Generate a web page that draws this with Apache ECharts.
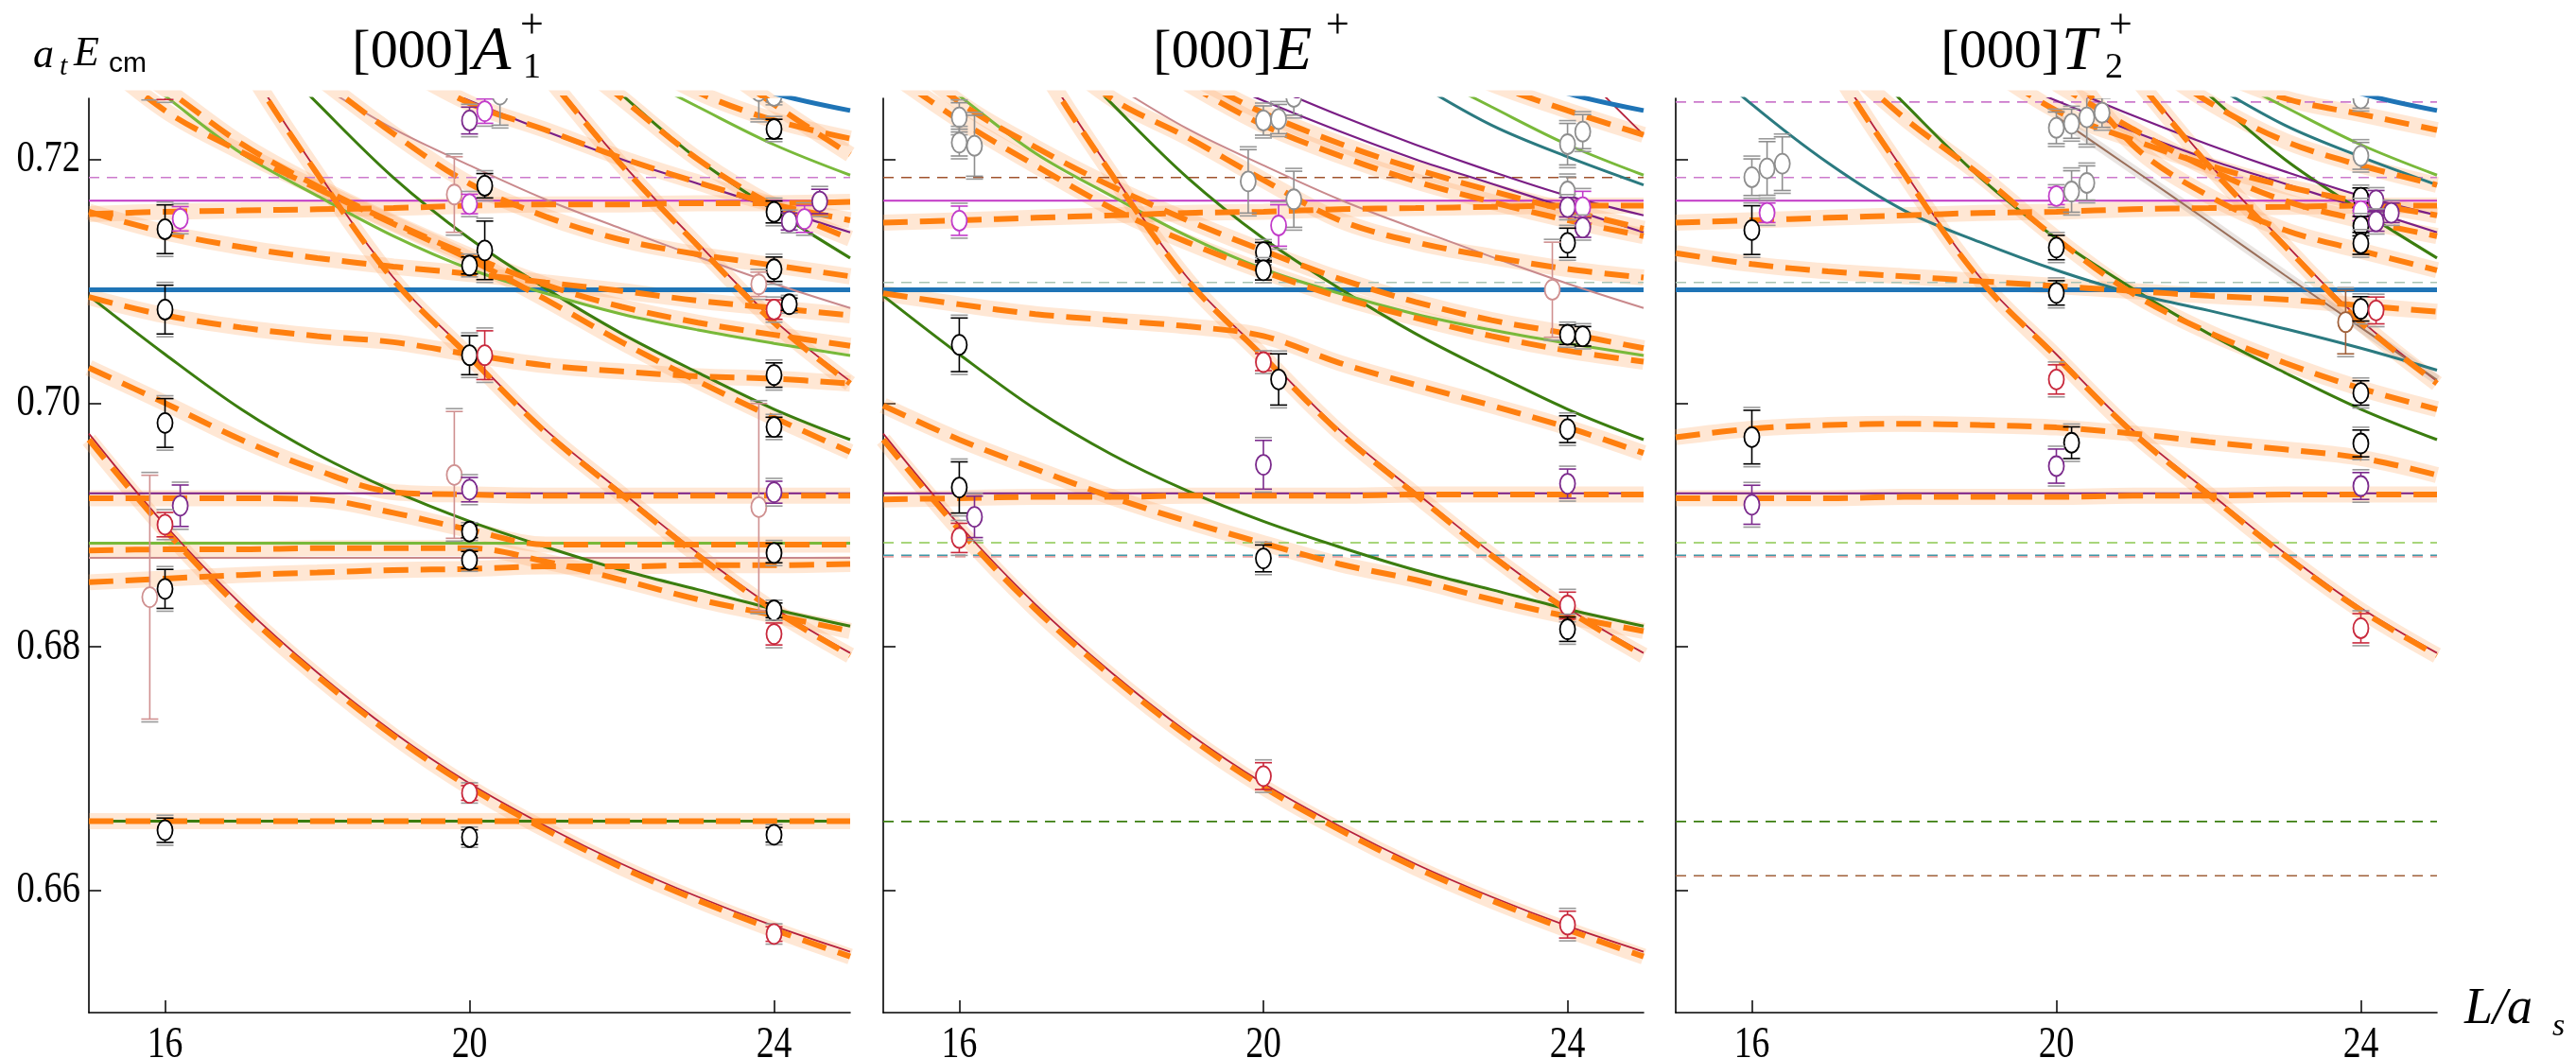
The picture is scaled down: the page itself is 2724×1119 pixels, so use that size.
<!DOCTYPE html>
<html>
<head>
<meta charset="utf-8">
<script src="https://cdn.jsdelivr.net/npm/echarts@6/dist/echarts.min.js"></script>
<style>
html,body{margin:0;padding:0;background:#fff;}
#chart{width:2724px;height:1119px;}
</style>
</head>
<body>
<div id="chart"></div>
<script>
// Box size L/a_s sampled at integer steps
const L = [15, 16, 17, 18, 19, 20, 21, 22, 23, 24, 25];

// Non-interacting energy curves (a_t E_cm)
const crimsonLow  = [0.6975, 0.6900, 0.6835, 0.6779, 0.6730, 0.6688, 0.6653, 0.6622, 0.6595, 0.6571, 0.6550];
const crimsonMid  = [null, 0.7410, 0.7287, 0.7190, 0.7103, 0.7040, 0.6978, 0.6927, 0.6877, 0.6832, 0.6795];
const crimsonHigh = [null, null, null, null, null, 0.7350, 0.7272, 0.7197, 0.7131, 0.7068, 0.7018];
const crimsonTop  = [null, null, null, null, null, null, null, null, null, 0.7282, 0.7220];
const forestLow   = [0.7088, 0.7040, 0.6995, 0.6958, 0.6928, 0.6903, 0.6882, 0.6863, 0.6847, 0.6831, 0.6817];
const forestMid   = [null, null, 0.7310, 0.7246, 0.7185, 0.7135, 0.7094, 0.7057, 0.7025, 0.6995, 0.6970];
const forestHigh  = [null, null, null, null, null, null, 0.7310, 0.7253, 0.7200, 0.7158, 0.7119];
const limeMid     = [0.7300, 0.7252, 0.7205, 0.7170, 0.7137, 0.7110, 0.7090, 0.7073, 0.7060, 0.7049, 0.7039];
const limeHigh    = [null, null, null, null, null, null, null, 0.7275, 0.7243, 0.7212, 0.7187];
const roseCurve   = [null, null, 0.7300, 0.7262, 0.7225, 0.7195, 0.7167, 0.7143, 0.7120, 0.7098, 0.7078];
const violetLow   = [null, null, null, null, 0.7275, 0.7248, 0.7223, 0.7200, 0.7180, 0.7160, 0.7140];
const violetHigh  = [null, null, null, null, null, 0.7262, 0.7236, 0.7212, 0.7190, 0.7170, 0.7154];
const blueHigh    = [null, null, null, null, null, null, null, null, 0.7275, 0.7254, 0.7240];
const tealHigh    = [null, null, null, null, null, null, 0.7300, 0.7263, 0.7228, 0.7202, 0.7179];
const tealLow     = [0.7300, 0.7245, 0.7197, 0.7158, 0.7132, 0.7109, 0.7090, 0.7076, 0.7061, 0.7045, 0.7027];
const umberCurve  = [null, null, null, null, null, 0.7235, 0.7192, 0.7149, 0.7105, 0.7062, 0.7019];

// Thresholds (constant in L)
const blueLevel = 0.7093, magentaLevel = 0.7166, violetLevel = 0.6926;
const limeLevel = 0.6885, roseLevel = 0.6873, forestLevel = 0.6657;
const dashTop = 0.7247, dashUpper = 0.7185, dashSage = 0.7099;
const dashLime = 0.68855, dashTeal = 0.68752, dashRose = 0.68739, dashForest = 0.66568, dashUmber = 0.66123;

// Interacting spectrum from the amplitude fits: [000] A1+
const oA    = [0.6970, 0.6896, 0.6831, 0.6776, 0.6727, 0.6685, 0.6650, 0.6619, 0.6592, 0.6568, 0.6546];
const oB    = [null, 0.7408, 0.7285, 0.7188, 0.7101, 0.7038, 0.6976, 0.6925, 0.6875, 0.6830, 0.6793];
const oC    = [null, null, null, null, null, 0.7348, 0.7270, 0.7195, 0.7129, 0.7066, 0.7016];
const o1Ground = [0.6657, 0.6657, 0.6657, 0.6657, 0.6657, 0.6657, 0.6657, 0.6657, 0.6657, 0.6657, 0.6657];
const o1Rise = [0.6853, 0.6856, 0.6859, 0.6861, 0.6863, 0.6864, 0.6866, 0.6866, 0.6867, 0.6867, 0.6868];
const o1Y   = [0.6879, 0.6880, 0.6880, 0.6881, 0.6881, 0.6881, 0.6870, 0.6855, 0.6839, 0.6826, 0.6813];
const o1X   = [0.6922, 0.6922, 0.6922, 0.6921, 0.6910, 0.6896, 0.6884, 0.6884, 0.6884, 0.6884, 0.6884];
const o1W   = [0.7029, 0.7000, 0.6970, 0.6945, 0.6927, 0.6925, 0.6924, 0.6924, 0.6924, 0.6924, 0.6924];
const o1V   = [0.7087, 0.7072, 0.7062, 0.7055, 0.7050, 0.7040, 0.7031, 0.7026, 0.7022, 0.7020, 0.7016];
const o1N   = [0.7157, 0.7140, 0.7128, 0.7119, 0.7112, 0.7106, 0.7099, 0.7092, 0.7084, 0.7078, 0.7072];
const o1M   = [0.7155, 0.7157, 0.7158, 0.7159, 0.7160, 0.7162, 0.7163, 0.7163, 0.7164, 0.7164, 0.7165];
const o1Q   = [null, null, null, 0.7268, 0.7221, 0.7180, 0.7153, 0.7134, 0.7122, 0.7113, 0.7104];
const o1G   = [0.7300, 0.7258, 0.7213, 0.7178, 0.7148, 0.7121, 0.7097, 0.7079, 0.7066, 0.7056, 0.7047];
const o1E   = [0.7290, 0.7240, 0.7206, 0.7176, 0.7147, 0.7118, 0.7085, 0.7050, 0.7018, 0.6988, 0.6960];
const o1J   = [null, null, null, null, 0.7280, 0.7246, 0.7224, 0.7201, 0.7181, 0.7163, 0.7150];
const o1F   = [null, null, null, null, null, null, 0.7300, 0.7250, 0.7200, 0.7162, 0.7135];
const o1H   = [null, null, null, null, null, null, null, 0.7290, 0.7255, 0.7232, 0.7217];
const o1K   = [null, null, null, null, null, null, null, null, 0.7290, 0.7245, 0.7204];

// [000] E+
const o2P   = [0.6921, 0.6922, 0.6923, 0.6923, 0.6924, 0.6924, 0.6924, 0.6925, 0.6925, 0.6925, 0.6925];
const o2W   = [0.6998, 0.6970, 0.6946, 0.6923, 0.6903, 0.6885, 0.6868, 0.6855, 0.6839, 0.6825, 0.6813];
const o2V   = [0.7090, 0.7081, 0.7073, 0.7068, 0.7063, 0.7055, 0.7033, 0.7015, 0.6998, 0.6980, 0.6959];
const o2M   = [0.7148, 0.7150, 0.7152, 0.7154, 0.7156, 0.7157, 0.7159, 0.7160, 0.7161, 0.7162, 0.7162];
const o2G1  = [0.7300, 0.7247, 0.7210, 0.7178, 0.7150, 0.7125, 0.7102, 0.7083, 0.7068, 0.7057, 0.7045];
const o2G2  = [0.7275, 0.7232, 0.7195, 0.7160, 0.7132, 0.7108, 0.7087, 0.7070, 0.7055, 0.7043, 0.7034];
const o2Q   = [null, null, 0.7300, 0.7250, 0.7218, 0.7183, 0.7150, 0.7132, 0.7120, 0.7110, 0.7103];
const o2J1  = [null, null, null, null, 0.7270, 0.7238, 0.7213, 0.7192, 0.7174, 0.7158, 0.7143];
const o2J2  = [null, null, null, null, 0.7262, 0.7228, 0.7203, 0.7182, 0.7165, 0.7150, 0.7137];
const o2H   = [null, null, null, null, null, null, null, 0.7290, 0.7262, 0.7240, 0.7220];

// [000] T2+
const o3P   = [0.6922, 0.6922, 0.6922, 0.6923, 0.6923, 0.6923, 0.6924, 0.6924, 0.6925, 0.6925, 0.6925];
const o3Arc = [0.6972, 0.6979, 0.6982, 0.6983, 0.6982, 0.6980, 0.6975, 0.6968, 0.6962, 0.6955, 0.6941];
const o3V   = [0.7123, 0.7114, 0.7108, 0.7104, 0.7100, 0.7096, 0.7092, 0.7088, 0.7085, 0.7080, 0.7075];
const o3E   = [null, null, 0.7290, 0.7234, 0.7187, 0.7135, 0.7090, 0.7058, 0.7033, 0.7012, 0.6995];
const o3a   = [null, null, null, null, 0.7280, 0.7240, 0.7216, 0.7195, 0.7178, 0.7165, 0.7154];
const o3b   = [null, null, null, null, null, 0.7262, 0.7225, 0.7192, 0.7166, 0.7150, 0.7137];
const o3g   = [null, null, null, null, null, 0.7290, 0.7212, 0.7170, 0.7142, 0.7125, 0.7109];
const o3F   = [null, null, null, null, null, null, 0.7290, 0.7247, 0.7215, 0.7195, 0.7179];
const o3H   = [null, null, null, null, null, null, null, 0.7275, 0.7250, 0.7237, 0.7224];

// Lattice levels: [L, a_t E_cm, error, colour class]
const ptsA1 = [
  [15.8, 0.7262, 0.0011, 0], [16, 0.7260, 0.0011, 1],
  [16, 0.71426, 0.0020, 0], [16.2, 0.71512, 0.0010, 3], [16, 0.70767, 0.0020, 0],
  [16, 0.69837, 0.0020, 0], [16.2, 0.69158, 0.0017, 2], [16, 0.69003, 0.0010, 1],
  [16, 0.68476, 0.0016, 0], [15.8, 0.68408, 0.0100, 5], [16, 0.66496, 0.0010, 0],
  [20, 0.72318, 0.0011, 2], [20.2, 0.72395, 0.0010, 3], [20.4, 0.7253, 0.0025, 4],
  [19.8, 0.71711, 0.0031, 5], [20, 0.71633, 0.0008, 3], [20.2, 0.71783, 0.0010, 0],
  [20.2, 0.71253, 0.0024, 0], [20, 0.71129, 0.0007, 0], [20, 0.70393, 0.0016, 0],
  [20.2, 0.70393, 0.0020, 1], [19.8, 0.69411, 0.0052, 5], [20, 0.69290, 0.0010, 2],
  [20, 0.68946, 0.0005, 0], [20, 0.68713, 0.0007, 0], [20, 0.66802, 0.0006, 1],
  [20, 0.66439, 0.0006, 0],
  [23.8, 0.7256, 0.0023, 4], [24, 0.7252, 0.0005, 4], [24, 0.72248, 0.0008, 0],
  [24, 0.71568, 0.0009, 0], [24.2, 0.7149, 0.0007, 2], [24.4, 0.7151, 0.0011, 3],
  [24.6, 0.71654, 0.0010, 2], [24, 0.71098, 0.0010, 0], [23.8, 0.70974, 0.0010, 5],
  [24, 0.70767, 0.0008, 1], [24.2, 0.70811, 0.0005, 0], [24, 0.7023, 0.0010, 0],
  [24, 0.69804, 0.0008, 0], [23.8, 0.69147, 0.0085, 5], [24, 0.69269, 0.0009, 2],
  [24, 0.68770, 0.0008, 0], [24, 0.68300, 0.0006, 0], [24, 0.68106, 0.0009, 1],
  [24, 0.65645, 0.0006, 1], [24, 0.66459, 0.0006, 0]
];
const ptsE = [
  [16, 0.72344, 0.0012, 4], [16, 0.72137, 0.0011, 4], [16.2, 0.72111, 0.0025, 4],
  [16, 0.71496, 0.0012, 3], [16, 0.70478, 0.0022, 0], [16, 0.69308, 0.0021, 0],
  [16.2, 0.69067, 0.0017, 2], [16, 0.68894, 0.0012, 1],
  [20, 0.72318, 0.0012, 4], [20.2, 0.7233, 0.0012, 4], [20.4, 0.72512, 0.0015, 4],
  [19.8, 0.71819, 0.0026, 4], [20.4, 0.71672, 0.0023, 4], [20.2, 0.71457, 0.0017, 3],
  [20, 0.71238, 0.0008, 0], [20, 0.71090, 0.0008, 0], [20, 0.70336, 0.0007, 1],
  [20.2, 0.70194, 0.0021, 0], [20, 0.69494, 0.0020, 2], [20, 0.68726, 0.0011, 0],
  [20, 0.6694, 0.0011, 1],
  [24, 0.72124, 0.0017, 4], [24.2, 0.72227, 0.0014, 4], [24, 0.71736, 0.0012, 4],
  [24, 0.71607, 0.0008, 2], [24.2, 0.71607, 0.0013, 3], [24.2, 0.7144, 0.0008, 2],
  [24, 0.71315, 0.0012, 0], [23.8, 0.7093, 0.0039, 5], [24, 0.70561, 0.0008, 0],
  [24.2, 0.70548, 0.0008, 0], [24, 0.69786, 0.0011, 0], [24, 0.69339, 0.0012, 2],
  [24, 0.68339, 0.0011, 1], [24, 0.68145, 0.0010, 0], [24, 0.65722, 0.0011, 1]
];
const ptsT2 = [
  [16, 0.71853, 0.0015, 4], [16.2, 0.71925, 0.0022, 4], [16.4, 0.71964, 0.0022, 4],
  [16.2, 0.71561, 0.0008, 3], [16, 0.71419, 0.0020, 0], [16, 0.69721, 0.0022, 0],
  [16, 0.69166, 0.0016, 2],
  [20, 0.72258, 0.0013, 4], [20.2, 0.72292, 0.0012, 4], [20.4, 0.72344, 0.0022, 4],
  [20.6, 0.72382, 0.0012, 4], [20, 0.71698, 0.0007, 3], [20.2, 0.71736, 0.0017, 4],
  [20.4, 0.71806, 0.0014, 4], [20, 0.71276, 0.0010, 0], [20, 0.70904, 0.0010, 0],
  [20, 0.70194, 0.0012, 1], [20.2, 0.69675, 0.0013, 0], [20, 0.69483, 0.0014, 2],
  [24, 0.72499, 0.0008, 4], [24, 0.72028, 0.0011, 4], [24, 0.71685, 0.0008, 0],
  [24.2, 0.71664, 0.0008, 2], [24, 0.71576, 0.0008, 3], [24.4, 0.71561, 0.0008, 2],
  [24, 0.71452, 0.0008, 0], [24.2, 0.7149, 0.0008, 2], [24, 0.7131, 0.0009, 0],
  [23.8, 0.70664, 0.0026, 6], [24, 0.70773, 0.0010, 0], [24.2, 0.7076, 0.0011, 1],
  [24, 0.70083, 0.0010, 0], [24, 0.69669, 0.0011, 0], [24, 0.6932, 0.0011, 2],
  [24, 0.68153, 0.0012, 1]
];

const xTicks = [16, 20, 24];
const yTicks = [0.66, 0.68, 0.70, 0.72];

// ---------- styling ----------
const SERIF = 'Liberation Serif';
const SANS = 'Liberation Sans';
const STYLE = {
  crimson: { color: '#b5203c', width: 1.8 },
  forest:  { color: '#3b7d0f', width: 3 },
  lime:    { color: '#79b93a', width: 3 },
  rose:    { color: '#c9898c', width: 2 },
  violet:  { color: '#7a1e85', width: 2.2 },
  blue:    { color: '#1f74b6', width: 5 },
  teal:    { color: '#2b7a80', width: 3 },
  umber:   { color: '#9a6f5a', width: 2 },
  magenta: { color: '#c237c6', width: 2 }
};
const DASHED = {
  orchid: '#cc7acc', umber: '#a0522d', sage: '#a9c4b4', lime: '#8cc850',
  teal: '#3f98a8', rose: '#eaa3a3', forest: '#3b7d0f', brown: '#a0603a'
};
const PT_COLORS = ['#000000', '#c8283c', '#7b2a8c', '#c13bc9', '#8e8e8e', '#cf9090', '#a0603a'];
const ORANGE = '#ff7f0e';
const BAND = 'rgba(255, 170, 100, 0.28)';

const GRID_LEFT = [94, 934, 1772];
const GRID_W = [805, 804, 805];

function pairs(vals) {
  const out = [];
  vals.forEach((v, i) => { if (v != null) out.push([L[i], v]); });
  return out;
}
function flat(v) { return [[15, v], [25, v]]; }

const series = [];
function line(p, data, color, width, z, dash, smooth) {
  series.push({
    type: 'line', xAxisIndex: p, yAxisIndex: p, data,
    symbol: 'none', smooth: smooth == null ? 0.35 : smooth, clip: true, silent: true, z,
    lineStyle: { color, width, type: dash || 'solid', cap: 'butt' }
  });
}

const panels = [
  {
    curves: [[crimsonLow, 'crimson'], [crimsonMid, 'crimson'], [crimsonHigh, 'crimson'],
             [forestLow, 'forest'], [forestMid, 'forest'], [forestHigh, 'forest'],
             [limeMid, 'lime'], [limeHigh, 'lime'], [roseCurve, 'rose'],
             [violetLow, 'violet'], [blueHigh, 'blue']],
    levels: [[blueLevel, 'blue'], [magentaLevel, 'magenta'], [violetLevel, 'violet'],
             [limeLevel, 'lime'], [roseLevel, 'rose'], [forestLevel, 'forest']],
    dashed: [[dashUpper, 'orchid']],
    orange: [oA, o1Ground, o1Rise, o1Y, o1X, o1W, o1V, oB, o1N, o1M, oC, o1Q, o1G, o1E, o1J, o1F, o1H, o1K],
    points: ptsA1
  },
  {
    curves: [[crimsonLow, 'crimson'], [crimsonMid, 'crimson'], [crimsonTop, 'crimson'],
             [forestLow, 'forest'], [forestMid, 'forest'], [limeMid, 'lime'], [limeHigh, 'lime'],
             [roseCurve, 'rose'], [violetLow, 'violet'], [violetHigh, 'violet'],
             [tealHigh, 'teal'], [blueHigh, 'blue']],
    levels: [[blueLevel, 'blue'], [magentaLevel, 'magenta'], [violetLevel, 'violet']],
    dashed: [[dashUpper, 'umber'], [dashSage, 'sage'], [dashLime, 'lime'], [dashRose, 'rose'],
             [dashTeal, 'teal'], [dashForest, 'forest']],
    orange: [oA, o2P, o2W, o2V, oB, o2M, o2G1, o2G2, o2Q, o2J1, o2J2, o2H],
    points: ptsE
  },
  {
    curves: [[crimsonMid, 'crimson'], [crimsonHigh, 'crimson'], [forestMid, 'forest'],
             [forestHigh, 'forest'], [limeHigh, 'lime'], [tealLow, 'teal'], [tealHigh, 'teal'],
             [umberCurve, 'umber'], [violetLow, 'violet'], [violetHigh, 'violet'], [blueHigh, 'blue']],
    levels: [[blueLevel, 'blue'], [magentaLevel, 'magenta'], [violetLevel, 'violet']],
    dashed: [[dashTop, 'orchid'], [dashUpper, 'orchid'], [dashSage, 'sage'], [dashLime, 'lime'],
             [dashRose, 'rose'], [dashTeal, 'teal'], [dashForest, 'forest'], [dashUmber, 'brown']],
    orange: [o3P, o3Arc, oB, o3V, o2M, o3E, oC, o3a, o3b, o3g, o3F, o3H],
    points: ptsT2
  }
];

panels.forEach((pn, p) => {
  // uncertainty bands of the fitted spectrum
  pn.orange.forEach(vals => line(p, pairs(vals), BAND, 17, 1));
  if (p === 2) line(p, pairs(umberCurve), 'rgba(170,150,140,0.25)', 10, 1);
  // thresholds
  pn.dashed.forEach(([v, k], j) => line(p, flat(v), DASHED[k], 1.6, 2 + j * 0.01, [11, 8], false));
  pn.levels.forEach(([v, k]) => line(p, flat(v), STYLE[k].color, STYLE[k].width, 2.5, 'solid', false));
  // non-interacting curves
  pn.curves.forEach(([vals, k]) => line(p, pairs(vals), STYLE[k].color, STYLE[k].width, 3));
  // fitted interacting levels
  pn.orange.forEach(vals => line(p, pairs(vals), ORANGE, 6, 4, [26, 13]));
  // lattice energies with errors
  series.push({
    type: 'custom', xAxisIndex: p, yAxisIndex: p, clip: true, z: 6, silent: true,
    data: pn.points,
    renderItem(params, api) {
      const x = api.value(0), y = api.value(1), e = api.value(2);
      const c = PT_COLORS[api.value(3)];
      const pt = api.coord([x, y]);
      const hi = api.coord([x, y + e])[1];
      const lo = api.coord([x, y - e])[1];
      const cx = pt[0];
      const cap = (yy, off) => ({ type: 'line', shape: { x1: cx - 9, y1: yy + off, x2: cx + 9, y2: yy + off },
                                  style: { stroke: off ? '#9a9a9a' : c, lineWidth: 1.6 } });
      return {
        type: 'group',
        children: [
          { type: 'line', shape: { x1: cx, y1: hi, x2: cx, y2: lo }, style: { stroke: c, lineWidth: 1.6 } },
          cap(hi, -3), cap(lo, 3), cap(hi, 0), cap(lo, 0),
          { type: 'ellipse', shape: { cx, cy: pt[1], rx: 8, ry: 10.5 },
            style: { fill: '#ffffff', stroke: c, lineWidth: 1.8 } }
        ]
      };
    }
  });
});

const grids = [0, 1, 2].map(i => ({ left: GRID_LEFT[i], width: GRID_W[i], top: 104, height: 967, containLabel: false }));
const xAxes = [0, 1, 2].map(i => ({
  gridIndex: i, type: 'value', min: 15, max: 25,
  axisLine: { show: true, onZero: false, lineStyle: { color: '#000', width: 1.6 } },
  axisTick: { show: true, inside: true, length: 13, customValues: xTicks, lineStyle: { color: '#000', width: 1.5 } },
  axisLabel: { show: false },
  splitLine: { show: false }
}));
const yAxes = [0, 1, 2].map(i => ({
  gridIndex: i, type: 'value', min: 0.65, max: 0.725,
  axisLine: { show: true, onZero: false, lineStyle: { color: '#000', width: 1.6 } },
  axisTick: { show: true, inside: true, length: 13, customValues: yTicks, lineStyle: { color: '#000', width: 1.5 } },
  axisLabel: { show: false },
  splitLine: { show: false }
}));

function txt(x, y, text, size, family, italic, align, vAlign, sx) {
  return { type: 'text', x, y, silent: true, z: 10, scaleX: sx || 1,
           style: { text, fontSize: size, fontFamily: family, fontStyle: italic ? 'italic' : 'normal',
                    fill: '#000', textAlign: align || 'left', textVerticalAlign: vAlign || 'middle' } };
}
const graphic = [
  // panel titles
  txt(498, 56, '[000]', 58, SERIF, false, 'right'),
  txt(500, 56, 'A', 66, SERIF, true),
  txt(553, 72, '1', 38, SERIF, false),
  txt(550, 28, '+', 44, SERIF, false),
  txt(1345, 56, '[000]', 58, SERIF, false, 'right'),
  txt(1347, 56, 'E', 66, SERIF, true),
  txt(1402, 28, '+', 44, SERIF, false),
  txt(2178, 56, '[000]', 58, SERIF, false, 'right'),
  txt(2180, 56, 'T', 66, SERIF, true),
  txt(2226, 72, '2', 38, SERIF, false),
  txt(2230, 28, '+', 44, SERIF, false),
  // vertical axis name  a_t E_cm
  txt(35, 59, 'a', 44, SERIF, true),
  txt(63, 71, 't', 30, SERIF, true),
  txt(78, 57, 'E', 44, SERIF, true),
  txt(115, 68, 'cm', 30, SANS, false),
  // horizontal axis name  L/a_s
  txt(2606, 1068, 'L/a', 54, SERIF, true),
  txt(2699, 1086, 's', 34, SERIF, true)
];

const chart = echarts.init(document.getElementById('chart'), null, { renderer: 'canvas' });
chart.setOption({
  animation: false,
  backgroundColor: '#ffffff',
  textStyle: { fontFamily: SERIF },
  grid: grids,
  xAxis: xAxes,
  yAxis: yAxes,
  series
});

// Tick labels in a narrow serif face, placed through each axis' own scale
const tickLabels = [];
[0, 1, 2].forEach(i => {
  xTicks.forEach(v => {
    const pos = chart.convertToPixel({ xAxisIndex: i, yAxisIndex: i }, [v, 0.65]);
    tickLabels.push(txt(pos[0], pos[1] + 12, String(v), 46, SERIF, false, 'center', 'top', 0.82));
  });
});
yTicks.forEach(v => {
  const pos = chart.convertToPixel({ xAxisIndex: 0, yAxisIndex: 0 }, [15, v]);
  tickLabels.push(txt(pos[0] - 9, pos[1], v.toFixed(2), 47, SERIF, false, 'right', 'middle', 0.82));
});
chart.setOption({ graphic: graphic.concat(tickLabels) });
</script>
</body>
</html>
